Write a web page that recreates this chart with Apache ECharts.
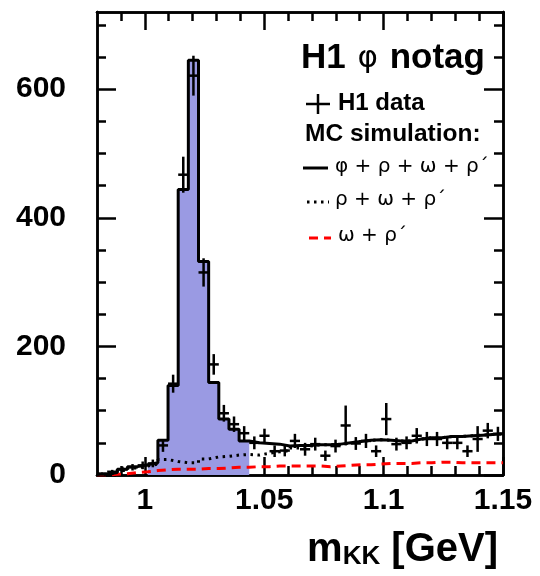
<!DOCTYPE html>
<html>
<head>
<meta charset="utf-8">
<script src="https://cdn.jsdelivr.net/npm/echarts@6/dist/echarts.min.js"></script>
<style>
  html, body { margin: 0; padding: 0; background: #fff; }
  #chart { width: 540px; height: 576px; }
</style>
</head>
<body>
<div id="chart"></div>
<script>
// ---- Data ----
const xMin = 0.98, xMax = 1.15, nBins = 40;
const yMin = 0, yMax = 720;

// H1 data: counts per bin and error bar half-length
const dataCounts = [2, 5, 9, 12, 15, 18, 46, 142, 467, 621,
                    315, 172, 96, 79, 65, 50, 61, 37, 38, 53,
                    40, 48, 30, 45, 77, 49, 53, 37, 87, 48,
                    50, 61, 56, 56, 50, 50, 37, 56, 69, 64];
const dataErrors = [2, 3, 4, 5, 6, 6, 10, 14, 28, 31,
                    22, 16, 13, 12, 11, 10, 11, 9, 9, 11,
                    10, 10, 8, 10, 31, 10, 11, 9, 25, 10,
                    10, 12, 11, 11, 10, 10, 9, 20, 12, 11];
// MC: phi + rho + omega + rho'
const mcTotal = [1, 4, 9, 13, 16, 19, 54, 139, 444, 645,
                 332, 144, 87, 71, 53, 50, 49, 48, 45, 46,
                 46, 47, 47, 48, 50, 52, 54, 55, 54, 53,
                 53, 56, 58, 58, 60, 60, 61, 62, 63, 64];
// MC: rho + omega + rho'
const mcRhoOmega = [1, 3, 7, 11, 14, 17, 24, 21, 19, 19,
                    25, 28, 29, 31, 32, 31, 34, 36, 38, 42,
                    45, 47, 47, 48, 50, 52, 54, 55, 54, 53,
                    53, 56, 58, 58, 60, 60, 61, 62, 63, 64];
// MC: omega + rho'
const mcOmega = [0, 1, 2, 4, 5, 7, 8, 9, 9, 9,
                 10, 10, 11, 12, 12, 13, 13, 14, 14, 14,
                 14, 14, 13, 14, 15, 16, 16, 17, 18, 18,
                 18, 19, 19, 20, 20, 19, 19, 19, 19, 19];
// shaded (phi signal) bin range
const shadeFirstBin = 5, shadeLastBin = 14;

// tick values
const xMajorTicks = [1, 1.05, 1.1, 1.15];
const xMinorTicks = [0.99, 1.01, 1.02, 1.03, 1.04, 1.06, 1.07, 1.08, 1.09,
                     1.11, 1.12, 1.13, 1.14];
const yMajorTicks = [0, 200, 400, 600];
const yMinorTicks = [50, 100, 150, 250, 300, 350, 450, 500, 550, 650, 700];

// ---- Build series data ----
const binW = (xMax - xMin) / nBins;
const edges = [];
for (let i = 0; i <= nBins; i++) edges.push(+(xMin + i * binW).toFixed(6));

function stepData(vals, from, to) {
  const out = [];
  for (let i = from; i <= to; i++) out.push([edges[i], vals[i]]);
  out.push([edges[to + 1], vals[to]]);
  return out;
}
const errData = dataCounts.map((v, i) => [
  (edges[i] + edges[i + 1]) / 2, v, dataErrors[i], edges[i], edges[i + 1]
]);

const FONT = 'Liberation Sans';
const AX = { color: '#000', width: 2.5 };

function xAxisDef(pos, ticks, len, labels) {
  return {
    type: 'value', position: pos, min: xMin, max: xMax, gridIndex: 0,
    axisLine: { show: true, onZero: false, lineStyle: AX },
    axisTick: { show: true, inside: true, length: len, customValues: ticks, lineStyle: AX },
    axisLabel: labels ? {
      show: true, customValues: ticks, margin: 11,
      fontFamily: FONT, fontWeight: 'bold', fontSize: 30, color: '#000',
      formatter: v => String(Math.round(v * 100) / 100)
    } : { show: false },
    splitLine: { show: false }
  };
}
function yAxisDef(pos, ticks, len, labels) {
  return {
    type: 'value', position: pos, min: yMin, max: yMax, gridIndex: 0,
    axisLine: { show: true, onZero: false, lineStyle: AX },
    axisTick: { show: true, inside: true, length: len, customValues: ticks, lineStyle: AX },
    axisLabel: labels ? {
      show: true, customValues: ticks, margin: 31,
      fontFamily: FONT, fontWeight: 'bold', fontSize: 30, color: '#000'
    } : { show: false },
    splitLine: { show: false }
  };
}

const chart = echarts.init(document.getElementById('chart'), null, { renderer: 'canvas' });
chart.setOption({
  animation: false,
  backgroundColor: '#fff',
  grid: { left: 97, right: 37, top: 12, bottom: 101 },
  xAxis: [
    xAxisDef('bottom', xMajorTicks, 18, true),
    xAxisDef('bottom', xMinorTicks, 9, false),
    xAxisDef('top', xMajorTicks, 18, false),
    xAxisDef('top', xMinorTicks, 9, false)
  ],
  yAxis: [
    yAxisDef('left', yMajorTicks, 19, true),
    yAxisDef('left', yMinorTicks, 9, false),
    yAxisDef('right', yMajorTicks, 19, false),
    yAxisDef('right', yMinorTicks, 9, false)
  ],
  series: [
    {
      type: 'line', step: 'end', symbol: 'none', silent: true,
      data: stepData(mcTotal, shadeFirstBin, shadeLastBin),
      lineStyle: { width: 0 },
      areaStyle: { color: '#9a9ae3', opacity: 1 },
      z: 1
    },
    {
      type: 'line', step: 'end', symbol: 'none', silent: true,
      data: stepData(mcOmega, 0, nBins - 1),
      lineStyle: { color: '#ff0000', width: 3, type: [9, 6] },
      z: 2
    },
    {
      type: 'line', step: 'end', symbol: 'none', silent: true,
      data: stepData(mcRhoOmega, 0, nBins - 1),
      lineStyle: { color: '#000', width: 3, type: [2.5, 4.5] },
      z: 3
    },
    {
      type: 'line', step: 'end', symbol: 'none', silent: true,
      data: stepData(mcTotal, 0, nBins - 1),
      lineStyle: { color: '#000', width: 3 },
      z: 4
    },
    {
      type: 'custom', silent: true, z: 5,
      data: errData,
      encode: { x: 0, y: 1 },
      renderItem: function (params, api) {
        const x = api.value(0), y = api.value(1), e = api.value(2);
        const lo = api.value(3), hi = api.value(4);
        const pL = api.coord([lo, y]), pR = api.coord([hi, y]);
        const pT = api.coord([x, y + e]), pB = api.coord([x, y - e]);
        const st = { stroke: '#000', lineWidth: 2.5 };
        return {
          type: 'group',
          children: [
            { type: 'line', shape: { x1: pL[0], y1: pL[1], x2: pR[0], y2: pR[1] }, style: st },
            { type: 'line', shape: { x1: pT[0], y1: pT[1], x2: pB[0], y2: pB[1] }, style: st }
          ]
        };
      }
    }
  ],
  graphic: [
    // title
    {
      type: 'text', left: 301, top: 41, z: 10,
      style: {
        text: '{b|H1 }{p|φ}{b| notag}',
        rich: {
          b: { fontFamily: FONT, fontWeight: 'bold', fontSize: 35, fill: '#000' },
          p: { fontFamily: 'DejaVu Sans', fontSize: 31, fill: '#000', padding: [0, 2, 0, 2] }
        }
      }
    },
    // data legend
    { type: 'line', z: 10, shape: { x1: 306, y1: 104, x2: 330, y2: 104 }, style: { stroke: '#000', lineWidth: 2.5 } },
    { type: 'line', z: 10, shape: { x1: 318, y1: 94, x2: 318, y2: 114 }, style: { stroke: '#000', lineWidth: 2.5 } },
    {
      type: 'text', left: 338, top: 91, z: 10,
      style: { text: 'H1 data', fontFamily: FONT, fontWeight: 'bold', fontSize: 24, fill: '#000' }
    },
    {
      type: 'text', left: 305, top: 122, z: 10,
      style: { text: 'MC simulation:', fontFamily: FONT, fontWeight: 'bold', fontSize: 24.5, fill: '#000' }
    },
    // MC legend entries
    { type: 'line', z: 10, shape: { x1: 303, y1: 168, x2: 328, y2: 168 }, style: { stroke: '#000', lineWidth: 3 } },
    {
      type: 'text', left: 335, top: 157, z: 10,
      style: { text: 'φ + ρ + ω + ρ´', fontFamily: 'DejaVu Sans', fontSize: 20, fill: '#000' }
    },
    { type: 'line', z: 10, shape: { x1: 307, y1: 202, x2: 329, y2: 202 }, style: { stroke: '#000', lineWidth: 3, lineDash: [2.5, 4.5] } },
    {
      type: 'text', left: 335, top: 190, z: 10,
      style: { text: 'ρ + ω + ρ´', fontFamily: 'DejaVu Sans', fontSize: 20, fill: '#000' }
    },
    { type: 'line', z: 10, shape: { x1: 309, y1: 238, x2: 331, y2: 238 }, style: { stroke: '#ff0000', lineWidth: 3, lineDash: [9, 6] } },
    {
      type: 'text', left: 338, top: 226, z: 10,
      style: { text: 'ω + ρ´', fontFamily: 'DejaVu Sans', fontSize: 20, fill: '#000' }
    },
    // x-axis title
    {
      type: 'text', right: 42, top: 530, z: 10,
      style: {
        text: '{m|m}{s|KK}{m| [GeV]}',
        rich: {
          m: { fontFamily: FONT, fontWeight: 'bold', fontSize: 40, fill: '#000', verticalAlign: 'bottom' },
          s: { fontFamily: FONT, fontWeight: 'bold', fontSize: 26, fill: '#000', padding: [20, 0, 0, 0] }
        }
      }
    }
  ]
});
</script>
</body>
</html>
